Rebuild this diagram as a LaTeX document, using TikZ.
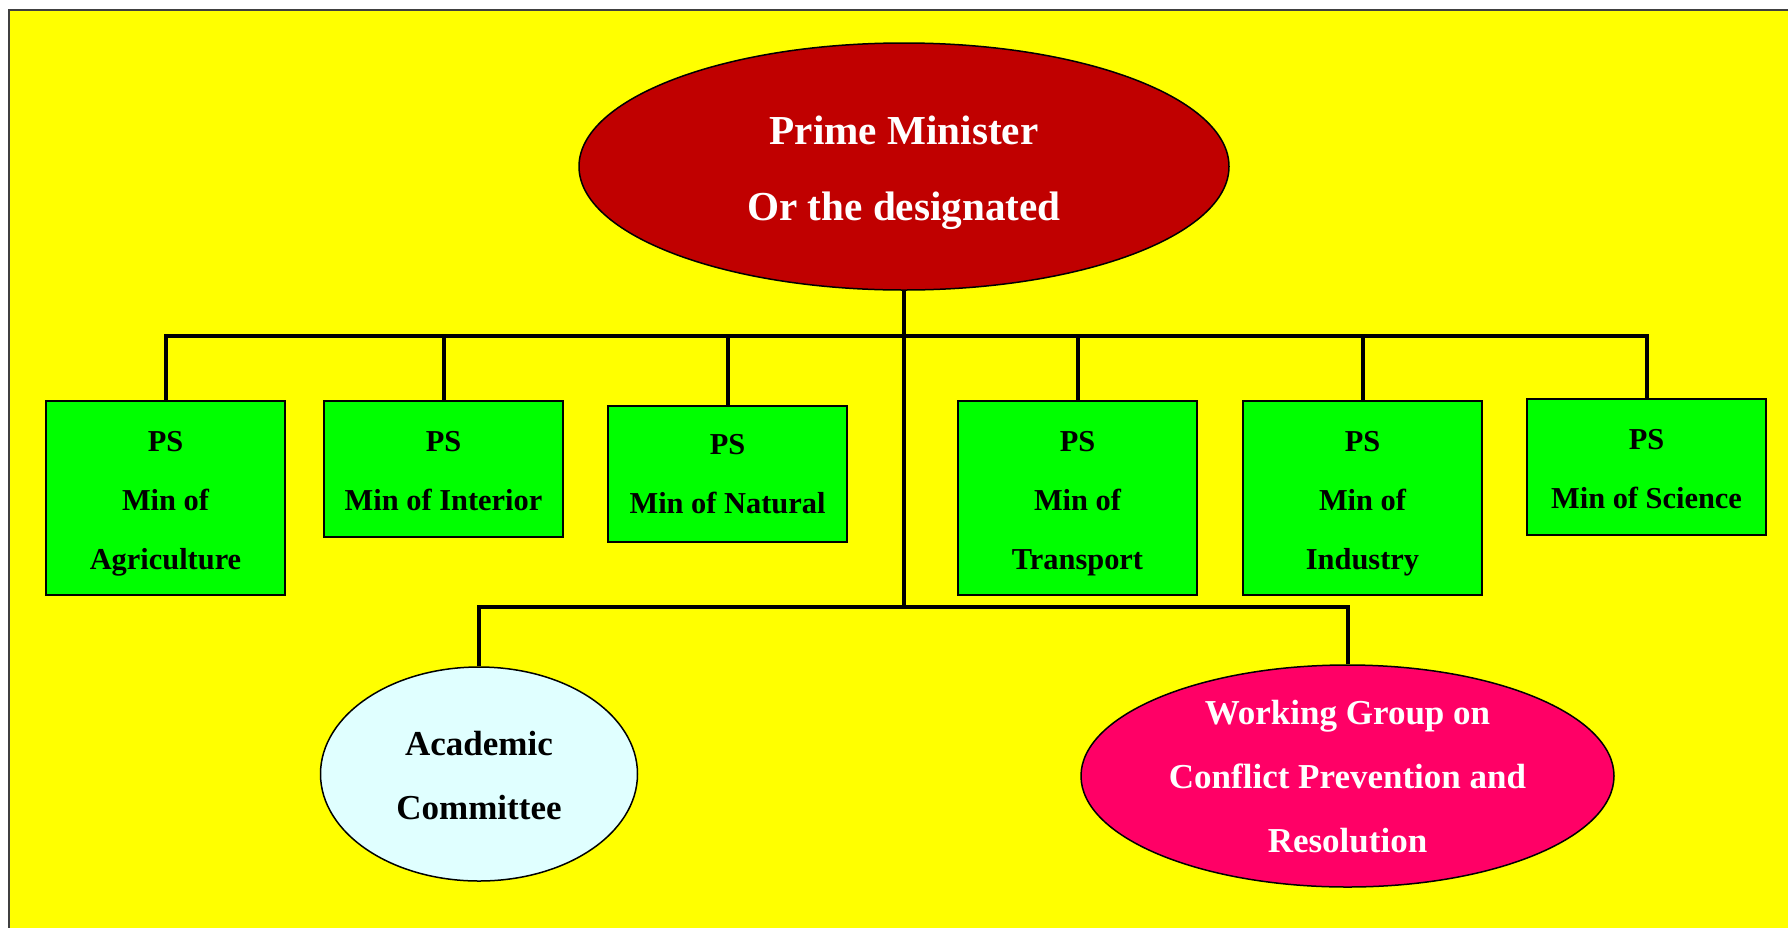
\documentclass[tikz,border=0pt]{standalone}
\usepackage{fontspec}
\setmainfont{Liberation Serif}
\usetikzlibrary{shapes.geometric}

\definecolor{bgyellow}{RGB}{255,255,0}
\definecolor{pmred}{RGB}{192,0,0}
\definecolor{psgreen}{RGB}{0,255,0}
\definecolor{acadcyan}{RGB}{224,255,255}
\definecolor{wgpink}{RGB}{255,0,102}

\tikzset{
  conn/.style={line width=2pt, draw=black},
  psbox/.style={rectangle, draw=black, line width=0.75pt, fill=psgreen,
    minimum width=119.5pt, inner sep=0pt},
  tallbox/.style={psbox, minimum height=97pt},
  shortbox/.style={psbox, minimum height=68pt},
  pstext/.style={align=center, inner sep=0pt,
    font=\bfseries\fontsize{15.2}{29.5}\selectfont},
  oval/.style={ellipse, draw=black, line width=0.75pt, inner sep=0pt},
  ovaltext/.style={align=center, inner sep=0pt},
}

\begin{document}
\begin{tikzpicture}[x=0.5pt, y=-0.5pt]
  % page and yellow panel
  \clip (0,0) rectangle (1788,927);
  \fill[white] (0,0) rectangle (1788,927);
  \draw[fill=bgyellow, draw=black!75, line width=0.8pt] (9,10) rectangle (1820,960);

  % top of the chart
  \node[oval, fill=pmred, minimum width=325pt, minimum height=123.5pt] (pm) at (904,166.5) {};
  \node[ovaltext, text=white, font=\bfseries\fontsize{20.6}{38}\selectfont] (pmt) at (904,172.5)
    {Prime Minister\\Or the designated};

  % permanent secretaries: box, then its caption
  \foreach \n/\x/\y/\s/\d/\t in {
      agr/165.5/498/tallbox/5.5/{PS\\Min of\\Agriculture},
      int/443.5/469/shortbox/2/{PS\\Min of Interior},
      nat/727.5/474/shortbox/0.5/{PS\\Min of Natural},
      tra/1077.5/498/tallbox/5.5/{PS\\Min of\\Transport},
      ind/1362.5/498/tallbox/5.5/{PS\\Min of\\Industry},
      sci/1646.5/467/shortbox/2/{PS\\Min of Science}} {
    \node[\s] (\n) at (\x,\y) {};
    \node[pstext] (\n-t) at (\x,\y+\d) {\t};
  }

  % lower bodies
  \node[oval, fill=acadcyan, minimum width=158.5pt, minimum height=107pt] (acad) at (479,774) {};
  \node[ovaltext, text=black, font=\bfseries\fontsize{17.5}{32}\selectfont] (acadt) at (479,776)
    {Academic\\Committee};
  \node[oval, fill=wgpink, minimum width=266.5pt, minimum height=111pt] (wg) at (1347.5,776) {};
  \node[ovaltext, text=white, font=\bfseries\fontsize{17.5}{32}\selectfont] (wgt) at (1347.5,777)
    {Working Group on\\Conflict Prevention and\\Resolution};

  % connectors
  \coordinate (bus) at (904,336);
  \coordinate (lowbus) at (904,607);
  \draw[conn] (pm.south) -- (lowbus);
  \foreach \b in {agr,int,nat,tra,ind,sci}
    \draw[conn] (\b.north) |- (bus);
  \draw[conn] (acad.north) |- (lowbus);
  \draw[conn] (wg.north) |- (lowbus);
\end{tikzpicture}
\end{document}
